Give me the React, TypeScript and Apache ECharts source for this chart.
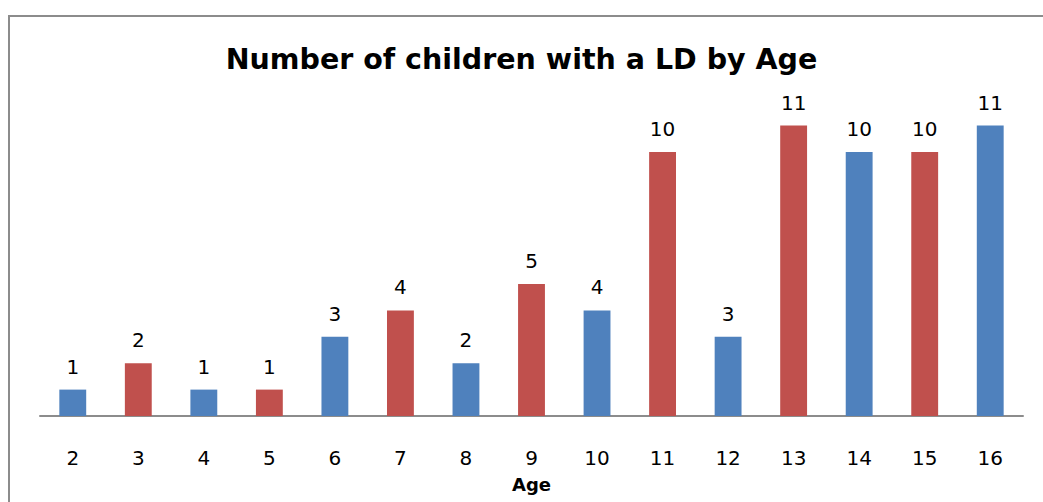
import React, { useEffect, useRef } from "react";
import * as echarts from "echarts";

const ages = ["2", "3", "4", "5", "6", "7", "8", "9", "10", "11", "12", "13", "14", "15", "16"];
const counts = [1, 2, 1, 1, 3, 4, 2, 5, 4, 10, 3, 11, 10, 10, 11];
const barColors = ["#4F81BD", "#C0504D"];

export default function App() {
  const ref = useRef<HTMLDivElement>(null);

  useEffect(() => {
    if (!ref.current) return;
    const chart = echarts.init(ref.current, null, { renderer: "svg" });
    const labelFont = "DejaVu Sans";
    chart.setOption({
      animation: false,
      backgroundColor: "#ffffff",
      title: {
        text: "Number of children with a LD by Age",
        left: "center",
        top: 40,
        textStyle: {
          fontFamily: "DejaVu Sans",
          fontWeight: "bold",
          fontSize: 28.5,
          color: "#000000",
        },
      },
      graphic: [
        {
          type: "rect",
          shape: { x: 9, y: 16, width: 1200, height: 700 },
          style: { fill: "none", stroke: "#8c8c8c", lineWidth: 2 },
          silent: true,
          z: 100,
        },
      ],
      grid: { left: 40, right: 20, top: 99.2, bottom: 86, containLabel: false },
      xAxis: {
        type: "category",
        data: ages,
        name: "Age",
        nameLocation: "middle",
        nameGap: 59,
        nameTextStyle: {
          fontFamily: "DejaVu Sans",
          fontWeight: "bold",
          fontSize: 18,
          color: "#000000",
        },
        axisLine: { lineStyle: { color: "#8c8c8c", width: 2 } },
        axisTick: { show: false },
        axisLabel: {
          margin: 32,
          fontFamily: labelFont,
          fontSize: 20,
          color: "#000000",
        },
      },
      yAxis: {
        type: "value",
        min: 0,
        max: 12,
        show: false,
        splitLine: { show: false },
      },
      series: [
        {
          type: "bar",
          barWidth: "41%",
          data: counts.map((v, i) => ({
            value: v,
            itemStyle: { color: barColors[i % 2] },
          })),
          label: {
            show: true,
            position: "top",
            distance: 13,
            fontFamily: labelFont,
            fontSize: 20,
            color: "#000000",
          },
        },
      ],
    });
    return () => chart.dispose();
  }, []);

  return (
    <div
      ref={ref}
      style={{ position: "fixed", left: 0, top: 0, width: 1043, height: 502 }}
    />
  );
}
